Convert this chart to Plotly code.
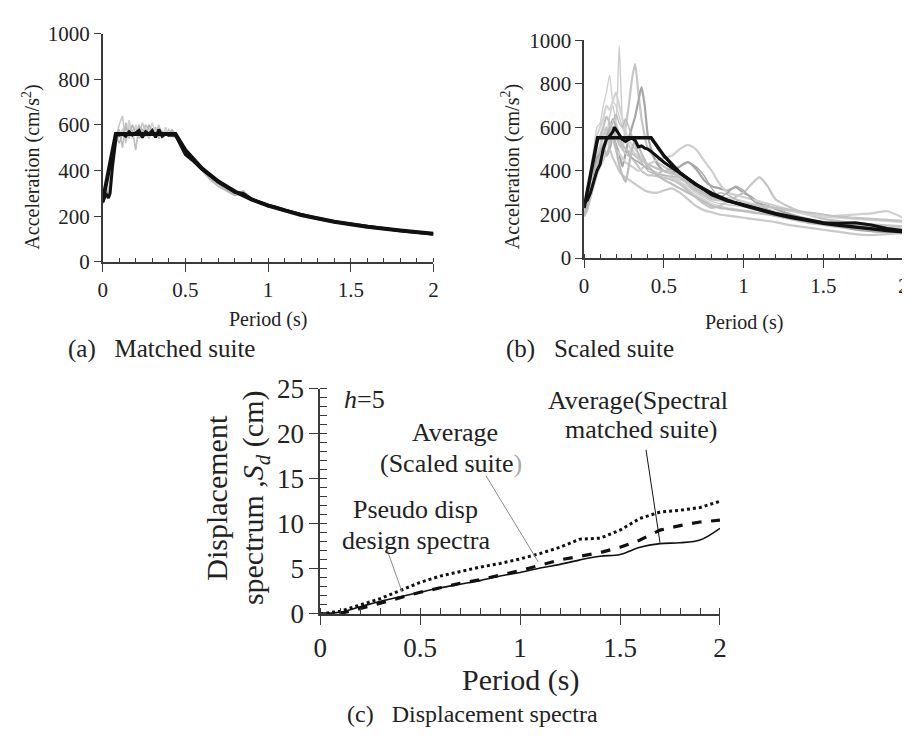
import plotly.graph_objects as go

# ---------------- Panel (a): matched suite ----------------
Ta_design = [0, 0.08, 0.44, 0.5, 0.6, 0.7, 0.8, 0.9, 1.0, 1.2, 1.4, 1.6, 1.8, 2.0]
Sa_design_a = [265, 560, 560, 490, 410, 352, 308, 274, 246, 205, 176, 154, 137, 123]

Ta_avg = [0, 0.02, 0.035, 0.045, 0.06, 0.085, 0.1, 0.12, 0.14, 0.16, 0.18, 0.2, 0.22, 0.24,
          0.26, 0.28, 0.3, 0.32, 0.34, 0.36, 0.38, 0.4, 0.44, 0.5, 0.55, 0.6, 0.7, 0.8, 0.85,
          0.9, 1.0, 1.05, 1.1, 1.2, 1.3, 1.4, 1.6, 1.8, 2.0]
Sa_avg_a = [260, 300, 280, 300, 420, 565, 555, 560, 550, 570, 555, 565, 575, 545,
            570, 560, 575, 545, 580, 550, 560, 555, 555, 470, 440, 405, 350, 305, 300,
            275, 248, 240, 228, 208, 190, 176, 155, 136, 122]

Ta = [0, 0.02, 0.04, 0.06, 0.08, 0.1, 0.12, 0.14, 0.16, 0.18, 0.2, 0.22, 0.24, 0.26, 0.28,
      0.3, 0.32, 0.34, 0.36, 0.38, 0.4, 0.42, 0.45, 0.5, 0.55, 0.6, 0.65, 0.7, 0.75, 0.8,
      0.85, 0.9, 1.0, 1.1, 1.2, 1.3, 1.4, 1.5, 1.6, 1.8, 2.0]
matched_1 = [270, 300, 310, 420, 540, 600, 640, 520, 600, 560, 590, 540, 610, 570, 540, 580, 560,
             600, 550, 570, 560, 550, 540, 475, 440, 405, 370, 350, 320, 300, 310, 270, 250, 228,
             210, 190, 178, 165, 155, 138, 123]
matched_2 = [255, 290, 330, 450, 560, 580, 500, 610, 540, 580, 490, 600, 560, 600, 580, 560, 590,
             540, 570, 555, 580, 560, 560, 480, 450, 400, 360, 330, 310, 290, 300, 280, 245, 225,
             205, 192, 172, 163, 152, 135, 118]
matched_3 = [265, 280, 320, 430, 520, 550, 580, 560, 620, 540, 600, 570, 540, 590, 560, 610, 560,
             580, 540, 590, 550, 570, 550, 490, 455, 410, 375, 345, 325, 305, 295, 268, 255, 222,
             212, 188, 180, 160, 150, 140, 120]
matched_4 = [275, 310, 300, 440, 550, 520, 560, 590, 560, 600, 560, 590, 580, 550, 600, 570, 550,
             580, 570, 560, 550, 580, 545, 470, 445, 415, 365, 340, 315, 295, 310, 280, 240, 230,
             205, 195, 175, 168, 150, 135, 125]
matched_suite = [matched_1, matched_2, matched_3, matched_4]
matched_colors = ["#c8c8c8", "#bdbdbd", "#d2d2d2", "#b4b4b4"]

# ---------------- Panel (b): scaled suite ----------------
Tb_design = [0, 0.085, 0.42, 0.5, 0.6, 0.7, 0.8, 0.9, 1.0, 1.1, 1.2, 1.3, 1.4, 1.5, 1.6, 1.7,
             1.8, 1.9, 2.0]
Sa_design_b = [230, 552, 552, 470, 392, 338, 297, 265, 242, 220, 202, 186, 172, 160, 150, 141,
               133, 126, 120]

Tb_avg = [0, 0.02, 0.04, 0.06, 0.08, 0.1, 0.12, 0.14, 0.16, 0.18, 0.19, 0.2, 0.22, 0.24, 0.26,
          0.28, 0.3, 0.32, 0.34, 0.36, 0.38, 0.4, 0.42, 0.45, 0.5, 0.6, 0.7, 0.8, 0.9, 1.0, 1.2,
          1.4, 1.5, 1.6, 1.7, 1.8, 1.9, 2.0]
Sa_avg_b = [255, 265, 300, 350, 400, 430, 500, 545, 560, 580, 600, 590, 570, 545, 535, 545, 550,
            540, 510, 515, 505, 500, 490, 470, 440, 390, 340, 290, 262, 245, 205, 175, 162, 160,
            162, 152, 136, 126]

Tb = [0, 0.02, 0.04, 0.06, 0.08, 0.1, 0.12, 0.14, 0.16, 0.18, 0.2, 0.22, 0.24, 0.26, 0.28, 0.3,
      0.32, 0.34, 0.36, 0.38, 0.4, 0.43, 0.46, 0.5, 0.55, 0.6, 0.65, 0.7, 0.75, 0.8, 0.85, 0.9,
      0.95, 1.0, 1.05, 1.1, 1.15, 1.2, 1.3, 1.4, 1.5, 1.6, 1.7, 1.8, 1.9, 2.0]
scaled_1 = [210, 260, 330, 420, 480, 520, 600, 560, 650, 700, 620, 975, 640, 560, 520, 480, 470,
            450, 430, 420, 410, 400, 390, 380, 370, 350, 330, 300, 280, 260, 250, 245, 240, 235,
            225, 215, 205, 200, 185, 170, 160, 150, 140, 135, 130, 125]
scaled_2 = [200, 240, 300, 380, 450, 500, 560, 600, 520, 580, 620, 550, 500, 600, 700, 820, 890,
            760, 640, 560, 500, 470, 440, 420, 400, 380, 360, 330, 300, 280, 270, 260, 250, 245,
            240, 230, 220, 210, 195, 180, 165, 155, 150, 145, 140, 135]
scaled_3 = [220, 270, 330, 400, 460, 480, 520, 470, 500, 560, 520, 480, 420, 480, 550, 600, 650,
            720, 785, 700, 560, 480, 430, 400, 390, 420, 440, 410, 360, 330, 320, 310, 325, 300,
            280, 250, 240, 225, 200, 180, 165, 150, 135, 125, 120, 115]
scaled_4 = [230, 300, 400, 500, 600, 620, 700, 760, 840, 720, 700, 650, 600, 560, 520, 500, 480,
            470, 450, 440, 430, 420, 410, 400, 380, 350, 320, 290, 270, 250, 240, 230, 225, 220,
            215, 205, 200, 190, 175, 160, 150, 140, 130, 125, 120, 115]
scaled_5 = [200, 240, 300, 360, 420, 460, 500, 540, 580, 600, 560, 520, 500, 480, 470, 460, 440,
            420, 400, 390, 380, 380, 375, 370, 360, 340, 310, 280, 250, 230, 240, 260, 280, 300,
            340, 370, 330, 270, 230, 200, 180, 170, 160, 155, 150, 145]
scaled_6 = [190, 220, 280, 340, 400, 440, 480, 520, 560, 540, 500, 480, 460, 440, 430, 420, 410,
            400, 410, 420, 430, 440, 450, 460, 470, 500, 520, 500, 450, 400, 340, 300, 290, 280,
            270, 260, 250, 240, 220, 205, 190, 195, 200, 205, 215, 185]
scaled_7 = [210, 250, 310, 380, 440, 480, 520, 560, 600, 640, 600, 560, 520, 500, 480, 460, 450,
            440, 430, 420, 410, 400, 390, 400, 410, 420, 440, 420, 380, 320, 280, 300, 330, 310,
            270, 240, 225, 210, 190, 175, 160, 145, 130, 122, 118, 112]
scaled_8 = [200, 230, 280, 330, 380, 420, 450, 480, 500, 460, 430, 400, 380, 370, 360, 350, 340,
            330, 320, 310, 305, 300, 300, 310, 320, 300, 270, 240, 220, 210, 200, 195, 190, 185,
            180, 175, 170, 165, 150, 140, 130, 120, 110, 105, 110, 115]
scaled_9 = [215, 260, 340, 440, 560, 600, 640, 700, 680, 720, 760, 700, 640, 580, 540, 520, 500,
            480, 460, 440, 420, 400, 390, 380, 370, 360, 350, 330, 310, 290, 280, 275, 270, 260,
            250, 240, 235, 230, 215, 200, 190, 185, 180, 175, 170, 165]
scaled_10 = [205, 240, 300, 370, 430, 470, 500, 540, 580, 620, 660, 620, 600, 640, 600, 560, 520,
             480, 440, 420, 400, 390, 385, 380, 375, 370, 350, 320, 300, 280, 300, 290, 270, 250,
             240, 230, 220, 210, 190, 175, 160, 150, 140, 130, 125, 120]
scaled_11 = [195, 230, 290, 360, 420, 460, 500, 470, 520, 560, 500, 430, 380, 350, 420, 500, 540,
             520, 480, 450, 420, 400, 380, 360, 340, 320, 300, 280, 260, 240, 230, 225, 220, 215,
             210, 205, 200, 195, 180, 165, 155, 145, 140, 138, 135, 130]
scaled_12 = [220, 280, 360, 460, 520, 560, 600, 650, 620, 580, 560, 540, 520, 500, 490, 480, 470,
             460, 450, 440, 430, 420, 410, 400, 390, 370, 340, 310, 290, 270, 265, 260, 255, 250,
             245, 240, 235, 230, 220, 210, 200, 190, 185, 180, 175, 170]
scaled_suite = [scaled_1, scaled_2, scaled_3, scaled_4, scaled_5, scaled_6, scaled_7, scaled_8,
                scaled_9, scaled_10, scaled_11, scaled_12]
scaled_colors = ["#cccccc", "#c6c6c6", "#a6a6a6", "#d0d0d0", "#c4c4c4", "#cfcfcf", "#a9a9a9",
                 "#c9c9c9", "#d4d4d4", "#b8b8b8", "#bcbcbc", "#c2c2c2"]

# ---------------- Panel (c): displacement spectra ----------------
Tc = [0, 0.1, 0.2, 0.3, 0.4, 0.5, 0.6, 0.7, 0.8, 0.9, 1.0, 1.1, 1.2, 1.3, 1.4, 1.5, 1.6, 1.7,
      1.8, 1.9, 2.0]
Sd_matched = [0, 0.2, 0.8, 1.4, 1.9, 2.4, 2.9, 3.3, 3.7, 4.2, 4.6, 5.1, 5.5, 6.0, 6.4, 6.6, 7.4,
              7.8, 7.9, 8.2, 9.5]
Sd_design = [0, 0.05, 0.6, 1.2, 1.8, 2.4, 2.9, 3.4, 3.8, 4.3, 4.8, 5.4, 6.0, 6.4, 6.8, 7.4, 8.2,
             9.3, 9.8, 10.2, 10.4]
Sd_scaled = [0, 0.3, 1.0, 1.7, 2.6, 3.5, 4.2, 4.7, 5.2, 5.6, 6.1, 6.7, 7.4, 8.3, 8.4, 9.3, 10.6,
             11.3, 11.5, 11.8, 12.5]

# leader lines: (x0, y0, x1, y1, color) in panel (c) data units
leaders = [(0.33, 7.4, 0.41, 2.4, "#8a8a8a"),
           (0.83, 15.3, 1.09, 5.8, "#8a8a8a"),
           (1.63, 18.2, 1.70, 7.9, "#111111")]

FONT = "Liberation Serif, 'Times New Roman', Times, 'DejaVu Serif', serif"
AX = "#3a3a3a"
W, H = 910, 738

fig = go.Figure()

for s, c in zip(matched_suite, matched_colors):
    fig.add_trace(go.Scatter(x=Ta, y=s, mode="lines", line=dict(color=c, width=1.6),
                             xaxis="x", yaxis="y", showlegend=False))
fig.add_trace(go.Scatter(x=Ta_design, y=Sa_design_a, mode="lines",
                         line=dict(color="#111111", width=4), xaxis="x", yaxis="y", showlegend=False))
fig.add_trace(go.Scatter(x=Ta_avg, y=Sa_avg_a, mode="lines",
                         line=dict(color="#111111", width=3), xaxis="x", yaxis="y", showlegend=False))

for i, (s, c) in enumerate(zip(scaled_suite, scaled_colors)):
    fig.add_trace(go.Scatter(x=Tb, y=s, mode="lines",
                             line=dict(color=c, width=2.2 if i % 3 else 1.4, shape="spline", smoothing=0.6),
                             xaxis="x2", yaxis="y2", showlegend=False))
fig.add_trace(go.Scatter(x=Tb_design, y=Sa_design_b, mode="lines",
                         line=dict(color="#111111", width=3.5), xaxis="x2", yaxis="y2", showlegend=False))
fig.add_trace(go.Scatter(x=Tb_avg, y=Sa_avg_b, mode="lines",
                         line=dict(color="#111111", width=3), xaxis="x2", yaxis="y2", showlegend=False))

fig.add_trace(go.Scatter(x=Tc, y=Sd_scaled, mode="lines", line=dict(color="#111111", width=3, dash="dot"),
                         xaxis="x3", yaxis="y3", showlegend=False))
fig.add_trace(go.Scatter(x=Tc, y=Sd_design, mode="lines", line=dict(color="#111111", width=3.2, dash="dash"),
                         xaxis="x3", yaxis="y3", showlegend=False))
fig.add_trace(go.Scatter(x=Tc, y=Sd_matched, mode="lines", line=dict(color="#111111", width=1.6, shape="spline"),
                         xaxis="x3", yaxis="y3", showlegend=False))

for x0, y0, x1, y1, c in leaders:
    fig.add_shape(type="line", x0=x0, y0=y0, x1=x1, y1=y1, xref="x3", yref="y3",
                  line=dict(color=c, width=1))


def px(x):
    return x / W


def py(y):
    return 1 - y / H


def xax(dom, fs, major_len, minor_len):
    return dict(domain=dom, range=[0, 2], dtick=0.5, ticks="outside", ticklen=major_len,
                tickwidth=1.3, tickcolor=AX, showline=True, linecolor=AX, linewidth=1.5,
                showgrid=False, zeroline=False, tickfont=dict(family=FONT, size=fs, color="#222"),
                minor=dict(dtick=0.1, ticks="inside", ticklen=minor_len, tickcolor=AX, tickwidth=1.2),
                fixedrange=True)


def yax(dom, rng, dt, fs, major_len, anchor, minor=None):
    d = dict(domain=dom, range=rng, dtick=dt, ticks="outside", ticklen=major_len, tickwidth=1.3,
             tickcolor=AX, showline=True, linecolor=AX, linewidth=1.5, showgrid=False,
             zeroline=False, tickfont=dict(family=FONT, size=fs, color="#222"), anchor=anchor,
             fixedrange=True)
    if minor:
        d["minor"] = minor
    return d


fig.update_layout(
    width=W, height=H, margin=dict(l=0, r=0, t=0, b=0),
    paper_bgcolor="white", plot_bgcolor="white",
    font=dict(family=FONT, color="#222"),
    xaxis=dict(xax([px(89), px(425)], 21, 8, 4), anchor="y"),
    yaxis=yax([py(249), py(11)], [0, 1000], 200, 21, 7, "x"),
    xaxis2=dict(xax([px(578), px(902)], 21, 8, 4), anchor="y2"),
    yaxis2=yax([py(245), py(18)], [0, 1000], 200, 21, 7, "x2"),
    xaxis3=dict(xax([px(310), px(716)], 27, 9, 6), anchor="y3"),
    yaxis3=yax([py(616), py(381)], [0, 25], 5, 27, 9, "x3",
               minor=dict(dtick=1, ticks="inside", ticklen=7, tickcolor=AX, tickwidth=1.2)),
)

ann = []


def text(x, y, t, size, angle=0, anchor="center", color="#222"):
    ann.append(dict(x=px(x), y=py(y), xref="paper", yref="paper", text=t, showarrow=False,
                    font=dict(family=FONT, size=size, color=color), textangle=angle,
                    xanchor=anchor, yanchor="middle"))


# panel (a)
text(17, 150, "Acceleration (cm/s<sup>2</sup>)", 20, angle=-90)
text(257, 309, "Period (s)", 20)
text(52, 340, "(a)&nbsp;&nbsp;&nbsp;Matched suite", 25, anchor="left")
# panel (b)
text(504, 150, "Acceleration (cm/s<sup>2</sup>)", 20, angle=-90)
text(740, 312, "Period (s)", 20)
text(497, 340, "(b)&nbsp;&nbsp;&nbsp;Scaled suite", 25, anchor="left")
# panel (c)
text(205, 495, "Displacement", 30, angle=-90)
text(244, 495, "spectrum ,<i>S<sub>d</sub></i> (cm)", 30, angle=-90)
text(513, 685, "Period (s)", 30)
text(465, 720, "(c)&nbsp;&nbsp;&nbsp;Displacement spectra", 24)
text(332, 392, "<i>h</i>=5", 26, anchor="left")
text(633, 393, "Average(Spectral", 26)
text(636, 424, "matched suite)", 26)
text(447, 427, "Average", 26)
text(443, 459, "(Scaled suite<span style='color:#aaaaaa'>)</span>", 26)
text(407, 507, "Pseudo disp", 26)
text(407, 539, "design spectra", 26)

fig.update_layout(annotations=ann)
fig.write_html("out.html")
